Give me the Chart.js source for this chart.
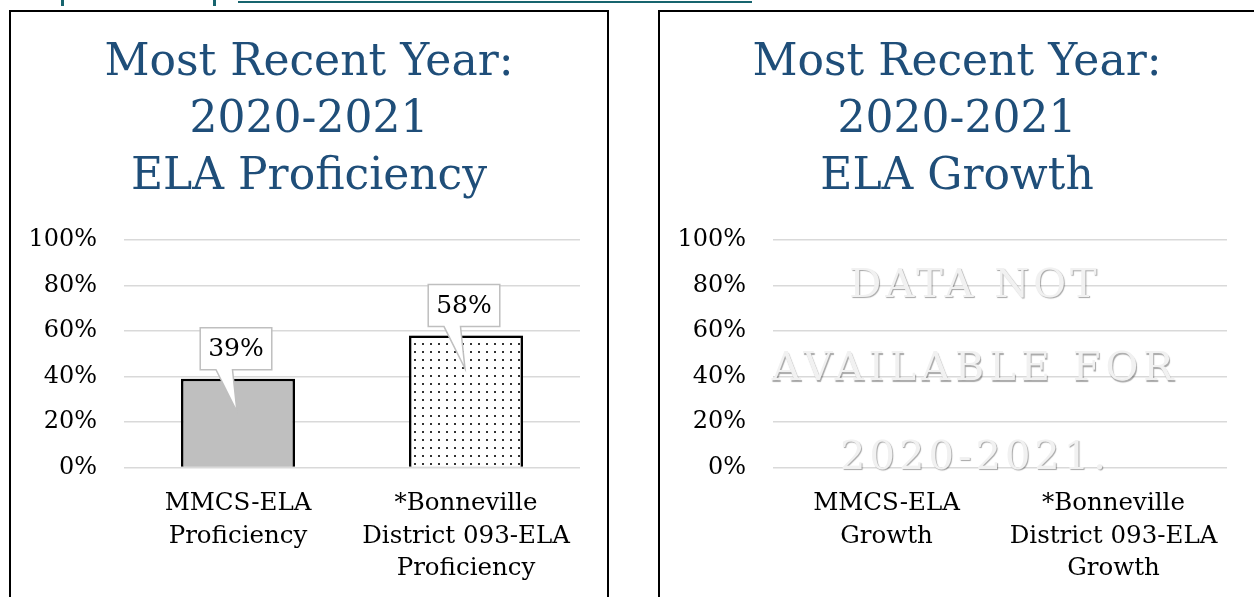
<!DOCTYPE html>
<html>
<head>
<meta charset="utf-8">
<script src="https://cdn.jsdelivr.net/npm/chart.js@4.4.0/dist/chart.umd.min.js"></script>
<style>
  html, body { margin: 0; padding: 0; background: #fff; width: 1254px; height: 597px; overflow: hidden; position: relative; }
  .panel { position: absolute; top: 10px; border: 2px solid #000; background: #fff; overflow: hidden; }
  #leftPanel { left: 9px; width: 596px; height: 620px; }
  #rightPanel { left: 658px; width: 600px; height: 620px; }
  canvas { display: block; }
  .teal { position: absolute; background: #17646e; }
</style>
</head>
<body>
<!-- bottom edge of the heading above the charts (cut off in the picture) -->
<div class="teal" style="left:238px;top:1px;width:514px;height:2px"></div>
<div class="teal" style="left:61px;top:0;width:3px;height:6px"></div>
<div class="teal" style="left:213px;top:0;width:3px;height:6px"></div>

<div id="leftPanel" class="panel"><canvas id="profChart" width="596" height="600"></canvas></div>
<div id="rightPanel" class="panel"><canvas id="growthChart" width="594" height="600"></canvas></div>

<script>
const titleProf = ['Most Recent Year:', '2020-2021', 'ELA Proficiency'];
const titleGrowth = ['Most Recent Year:', '2020-2021', 'ELA Growth'];

const profCategories = [['MMCS-ELA', 'Proficiency'], ['*Bonneville', 'District 093-ELA', 'Proficiency']];
const profValues = [39, 58];

const growthCategories = [['MMCS-ELA', 'Growth'], ['*Bonneville', 'District 093-ELA', 'Growth']];
const growthValues = [null, null];

const yTickValues = [0, 20, 40, 60, 80, 100];
const noDataText = ['DATA NOT', 'AVAILABLE FOR', '2020-2021.'];

const SERIF = '"DejaVu Serif", serif';
const TITLE_BLUE = '#1f4e79';

function dotPattern(ctx) {
  const c = document.createElement('canvas');
  c.width = 8; c.height = 8;
  const g = c.getContext('2d');
  g.fillStyle = '#fff';
  g.fillRect(0, 0, 8, 8);
  g.fillStyle = '#333';
  g.fillRect(3, 3, 2, 2);
  return ctx.createPattern(c, 'repeat');
}

function baseOptions(titleLines) {
  return {
    responsive: false,
    animation: false,
    layout: { padding: { left: 0, right: 0, top: 0, bottom: 15 } },
    plugins: {
      legend: { display: false },
      tooltip: { enabled: false },
      title: {
        display: true,
        text: titleLines,
        color: TITLE_BLUE,
        font: { family: SERIF, size: 44, weight: 'normal', lineHeight: 57 / 44 },
        padding: { top: 23, bottom: 34 }
      }
    },
    scales: {
      x: {
        grid: { display: false },
        border: { display: false },
        ticks: {
          color: '#000',
          font: { family: SERIF, size: 24.5, lineHeight: 32.5 / 24.5 },
          padding: 12,
          maxRotation: 0,
          autoSkip: false
        }
      },
      y: {
        min: 0,
        max: 100,
        afterFit: s => { s.width = 113; },
        afterBuildTicks: s => { s.ticks = yTickValues.map(v => ({ value: v })); },
        grid: { color: '#d9d9d9', lineWidth: 1.5, drawTicks: false },
        border: { display: false },
        ticks: {
          color: '#000',
          font: { family: SERIF, size: 24 },
          padding: 27,
          callback: v => v + '%'
        }
      },
      // empty gutter on the right side of the plot
      gutter: {
        type: 'linear',
        position: 'right',
        grid: { display: false },
        border: { display: false },
        ticks: { display: false },
        afterFit: s => { s.width = 27; }
      }
    }
  };
}

// bar shadows
const shadowPlugin = {
  id: 'barShadow',
  beforeDatasetsDraw(chart) {
    const ctx = chart.ctx;
    ctx.save();
    ctx.shadowColor = 'rgba(0,0,0,0.3)';
    ctx.shadowBlur = 5;
  },
  afterDatasetsDraw(chart) {
    chart.ctx.restore();
  }
};

// callout style data labels
const calloutPlugin = {
  id: 'callouts',
  afterDatasetsDraw(chart) {
    const ctx = chart.ctx;
    const meta = chart.getDatasetMeta(0);
    ctx.save();
    ctx.font = '25px ' + SERIF;
    meta.data.forEach((bar, i) => {
      const txt = profValues[i] + '%';
      const w = ctx.measureText(txt).width + 16;
      const h = 42;
      const cx = bar.x - 2;
      const bottom = bar.y - 9;
      const top = bottom - h;
      const left = cx - w / 2;
      ctx.beginPath();
      ctx.moveTo(left, top);
      ctx.lineTo(left + w, top);
      ctx.lineTo(left + w, bottom);
      ctx.lineTo(cx - 3.5, bottom);
      ctx.lineTo(bar.x - 1, bar.y + 33);
      ctx.lineTo(cx - 20, bottom);
      ctx.lineTo(left, bottom);
      ctx.closePath();
      ctx.fillStyle = '#fff';
      ctx.fill();
      ctx.strokeStyle = '#bfbfbf';
      ctx.lineWidth = 1.5;
      ctx.stroke();
      ctx.fillStyle = '#000';
      ctx.textAlign = 'center';
      ctx.textBaseline = 'middle';
      ctx.fillText(txt, cx, top + h / 2 + 1);
    });
    ctx.restore();
  }
};

// embossed "no data" note
const noDataPlugin = {
  id: 'noData',
  afterDraw(chart) {
    const ctx = chart.ctx;
    const a = chart.chartArea;
    const cx = a.left + (a.right - a.left) * 0.445;
    const rows = [0.203, 0.57, 0.96];
    ctx.save();
    ctx.font = '40px ' + SERIF;
    ctx.textAlign = 'center';
    ctx.textBaseline = 'middle';
    ctx.shadowColor = 'rgba(0,0,0,0.35)';
    ctx.shadowOffsetX = 1;
    ctx.shadowOffsetY = 1.5;
    ctx.shadowBlur = 1;
    ctx.fillStyle = '#f1f1f1';
    noDataText.forEach((t, i) => {
      ctx.letterSpacing = i === 1 ? '5px' : '4px';
      ctx.fillText(t, cx, a.top + (a.bottom - a.top) * rows[i]);
    });
    ctx.restore();
  }
};

const profCtx = document.getElementById('profChart').getContext('2d');
new Chart(profCtx, {
  type: 'bar',
  data: {
    labels: profCategories,
    datasets: [{
      data: profValues,
      backgroundColor: ['#bfbfbf', dotPattern(profCtx)],
      borderColor: '#000',
      borderWidth: 2.5,
      barPercentage: 0.5,
      categoryPercentage: 1
    }]
  },
  options: baseOptions(titleProf),
  plugins: [shadowPlugin, calloutPlugin]
});

const growthCtx = document.getElementById('growthChart').getContext('2d');
new Chart(growthCtx, {
  type: 'bar',
  data: {
    labels: growthCategories,
    datasets: [{
      data: growthValues,
      backgroundColor: '#bfbfbf',
      barPercentage: 0.5,
      categoryPercentage: 1
    }]
  },
  options: baseOptions(titleGrowth),
  plugins: [noDataPlugin]
});
</script>
</body>
</html>
